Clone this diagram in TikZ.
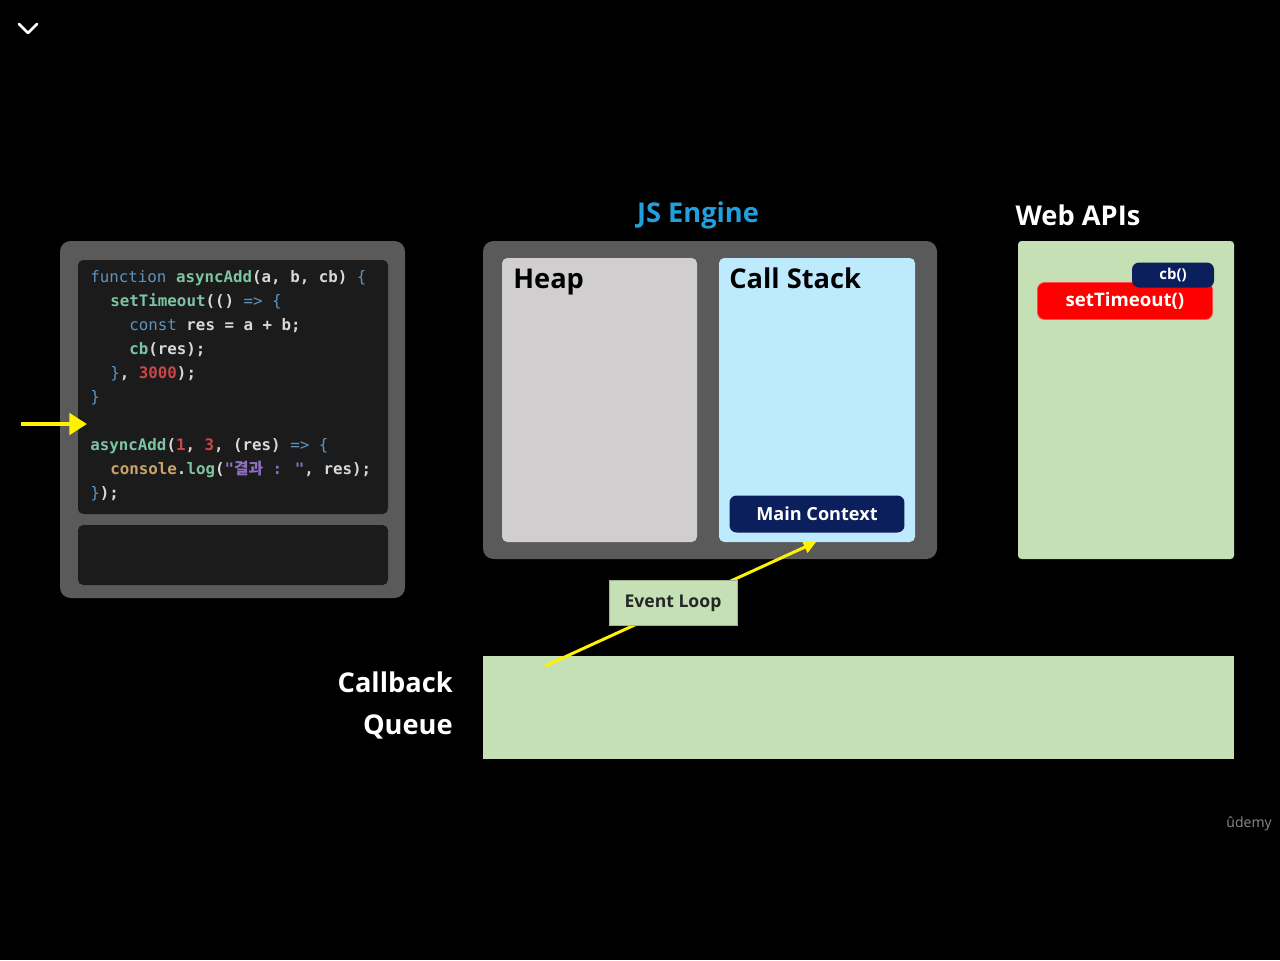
\documentclass[tikz,border=0pt]{standalone}
\usepackage{fontspec}
\setmainfont{Open Sans}
\newfontfamily\codefont{DejaVu Sans Mono}
\newfontfamily\cjk{Noto Sans CJK KR}
\usetikzlibrary{fit,arrows.meta}
\definecolor{panelgray}{HTML}{5A5A5A}
\definecolor{codebg}{HTML}{1B1B1B}
\definecolor{heapgray}{HTML}{D0CECE}
\definecolor{stackblue}{HTML}{BDEAFC}
\definecolor{navy}{HTML}{0B1F5C}
\definecolor{apigreen}{HTML}{C5E0B4}
\definecolor{jsblue}{HTML}{22A0DE}
\definecolor{ckw}{HTML}{5E93BF}
\definecolor{cfn}{HTML}{7CC4A4}
\definecolor{ctx}{HTML}{D8D8D8}
\definecolor{cnum}{HTML}{C8484A}
\definecolor{ccons}{HTML}{C9A46A}
\definecolor{cstr}{HTML}{8C6FC0}
\tikzset{
  panel/.style={fill=panelgray, rounded corners=6pt, inner sep=0pt},
  innerbox/.style={rounded corners=3pt, inner sep=0pt},
  title/.style={font=\bfseries\fontsize{15.5}{18}\selectfont, text=white, inner sep=0pt},
  codeline/.style={font=\codefont\bfseries\fontsize{9}{10}\selectfont, text=ctx, anchor=base west, inner sep=0pt},
  pill/.style={rounded corners=4pt, font=\bfseries\fontsize{10.3}{12}\selectfont, text=white, inner sep=0pt},
  yarrow/.style={draw=yellow, line width=1.7pt}
}
\newcommand{\kw}[1]{\textcolor{ckw}{\mdseries #1}}
\newcommand{\fn}[1]{\textcolor{cfn}{#1}}
\newcommand{\nm}[1]{\textcolor{cnum}{#1}}
\begin{document}
\begin{tikzpicture}[x=0.02cm, y=-0.02cm]
\fill[black] (0,0) rectangle (1280,960);
\useasboundingbox (0,0) rectangle (1280,960);
% chevron
\coordinate (chA) at (19,24);
\coordinate (chB) at (28,33);
\coordinate (chC) at (37,24);
\draw[white, line width=1.6pt, line cap=round, line join=round] (chA) -- (chB) -- (chC);

% code panel
\node[panel, fit={(60,241)(405,598)}] (codepanel) {};
\node[innerbox, fill=codebg, fit={(78,260)(388,514)}] (codebox) {};
\node[innerbox, fill=codebg, fit={(78,525)(388,585)}] (consolebox) {};
\node[codeline] (l1) at (90,282) {\kw{function} \fn{asyncAdd}(a, b, cb) \kw{\{}};
\node[codeline] (l2) at (110,306) {\fn{setTimeout}(() \kw{=>} \kw{\{}};
\node[codeline] (l3) at (129,330) {\kw{const} res = a + b;};
\node[codeline] (l4) at (129,354) {\fn{cb}(res);};
\node[codeline] (l5) at (110,378) {\kw{\}}, \nm{3000});};
\node[codeline] (l6) at (90,402) {\kw{\}}};
\node[codeline] (l8) at (90,450) {\fn{asyncAdd}(\nm{1}, \nm{3}, (res) \kw{=>} \kw{\{}};
\node[codeline] (l9) at (110,474) {\textcolor{ccons}{console}.\fn{log}(\textcolor{cstr}{"{\cjk 결과} : "}, res);};
\node[codeline] (l10) at (90,498) {\kw{\}});};
% left pointer
\coordinate (ptrA) at (21,424);
\coordinate (ptrB) at (87,424);
\draw[yarrow, line width=2.8pt, -{Triangle[length=10pt,width=12pt]}] (ptrA) -- (ptrB);

% JS engine
\node[title, text=jsblue, anchor=base] (jslabel) at (698,222) {JS Engine};
\node[panel, fit={(483,241)(937,559)}] (engine) {};
\node[innerbox, fill=heapgray, fit={(502,258)(697,542)}] (heap) {};
\node[innerbox, fill=stackblue, fit={(719,258)(915,542)}] (stack) {};
\node[title, text=black, anchor=base west] (heaplabel) at (513,288) {Heap};
\node[title, text=black, anchor=base west] (stacklabel) at (729,288) {Call Stack};
\node[pill, fill=navy, minimum width=3.5cm, minimum height=0.74cm] (main) at (817,514) {Main Context};

% Web APIs
\node[title, anchor=base] (weblabel) at (1078,225) {Web APIs};
\node[inner sep=0pt, fill=apigreen, rounded corners=2pt, fit={(1018,241)(1234,559)}] (webapis) {};
\node[pill, fill=red, draw=red!70!white, minimum width=3.5cm, minimum height=0.74cm, font=\bfseries\fontsize{10.6}{12}\selectfont] (settimeout) at (1125,301) {setTimeout()};
\node[pill, fill=navy, minimum width=1.64cm, minimum height=0.5cm, font=\bfseries\fontsize{8.5}{10}\selectfont] (cb) at (1173,275) {cb()};

% Callback queue
\node[title, anchor=base east] (cbq1) at (453,692) {Callback};
\node[title, anchor=base east] (cbq2) at (453,734) {Queue};
\node[inner sep=0pt, fill=apigreen, fit={(483,656)(1234,759)}] (queue) {};

% event loop arrow
\coordinate (elstart) at (545,666);
\coordinate (elend) at (816,542);
\draw[yarrow, -{Triangle[length=7pt,width=7pt]}] (elstart) -- (elend);
\node[inner sep=0pt, fill=apigreen, draw=apigreen!80!black, line width=0.3pt, minimum width=2.56cm, minimum height=0.9cm, font=\bfseries\fontsize{10}{12}\selectfont, text=black!85] (eventloop) at (673,603) {Event Loop};

% watermark
\node[inner sep=0pt, text=black!45, font=\fontsize{8}{9}\selectfont] (udemy) at (1249,824) {ûdemy};
\end{tikzpicture}
\end{document}
